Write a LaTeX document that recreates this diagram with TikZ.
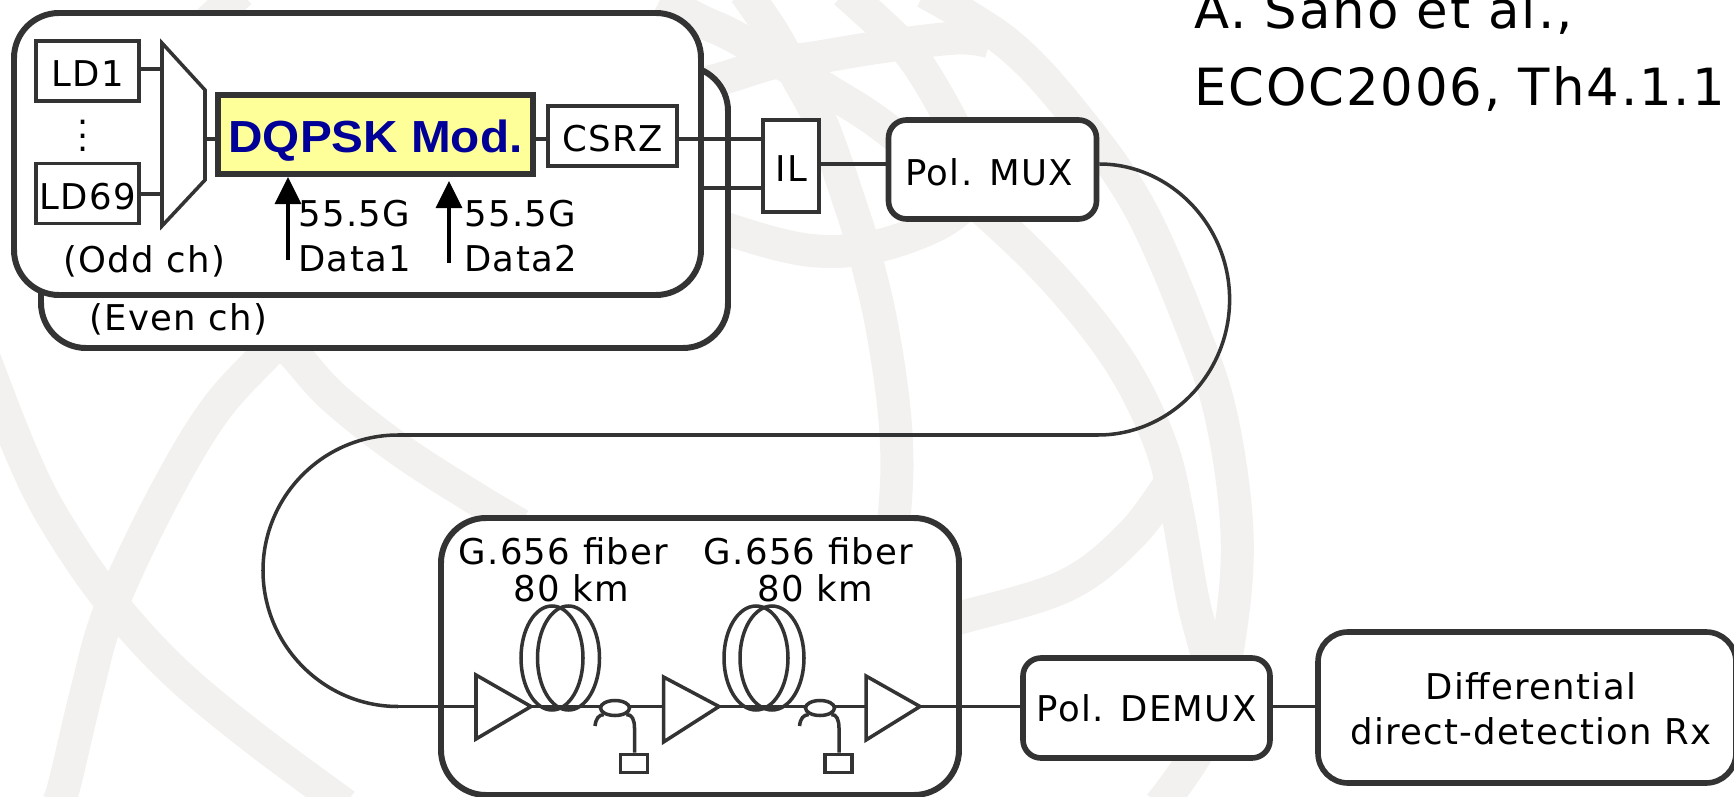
\documentclass[tikz,border=0pt]{standalone}
\usepackage{fontspec}
\usetikzlibrary{arrows.meta,shapes.geometric,calc}
\setmainfont[LetterSpace=3.7]{DejaVu Sans}
\newfontfamily\modfont[FakeStretch=1.06]{Liberation Sans Bold}
\def\pxu{0.02cm}
\newcommand{\smalltxt}{\fontsize{20.2pt}{24pt}\selectfont}
\newcommand{\bigtxt}{\fontsize{29.2pt}{34pt}\selectfont}
\definecolor{ink}{HTML}{333333}
\definecolor{band}{HTML}{F2F1EF}
\definecolor{modfill}{HTML}{FFFF99}
\definecolor{modtext}{HTML}{000099}
\tikzset{
  x=0.02cm,y=-0.02cm,
  every node/.style={inner sep=0pt},
  bg/.style={draw=band,line width=18.8pt,line cap=butt},
  sq/.style={draw=ink,fill=white,line width=2pt,rectangle},
  rnd/.style={draw=ink,fill=white,line width=3.2pt,rounded corners=18*\pxu,rectangle},
  big/.style={draw=ink,fill=white,line width=3.4pt,rounded corners=45*\pxu,rectangle},
  wire/.style={draw=ink,line width=2.2pt},
  fine/.style={draw=ink,line width=2pt},
  txt/.style={font=\smalltxt,text=black},
  low/.style={text height=17.9pt,text depth=0pt},
  txtb/.style={font=\smalltxt,text=black,anchor=base west},
  txtc/.style={font=\smalltxt,text=black,anchor=base},
  reftxt/.style={font=\bigtxt,text=black,anchor=base west},
  sig/.style={draw=black,line width=1.8pt,-{Triangle[length=15.4pt,width=14.8pt]}},
}
\begin{document}
\begin{tikzpicture}
\useasboundingbox (0,0) rectangle (1734,797);
\clip (0,0) rectangle (1734,797);
% background watermark
\draw[bg] plot[smooth,tension=.6] coordinates {(-15,360)(20,450)(53,517)(107,597)(173,670)(253,737)(345,805)};
\draw[bg] plot[smooth,tension=.6] coordinates {(55,805)(63,790)(87,690)(110,610)(160,503)(213,413)(267,353)(310,310)};
\draw[bg] plot[smooth,tension=.6] coordinates {(260,320)(293,353)(333,397)(400,450)(473,497)(520,525)};
\draw[bg] plot[smooth,tension=.6] coordinates {(640,100)(717,80)(773,63)(813,58)(880,47)(957,38)(990,42)};
\draw[bg] plot[smooth,tension=.6] coordinates {(925,-8)(1007,43)(1073,113)(1139,207)(1194,333)(1222,420)(1237,533)(1230,633)(1207,733)(1160,805)};
\draw[bg] plot[smooth,tension=.6] coordinates {(660,0)(703,22)(737,38)(827,90)(892,133)(997,222)(1067,293)(1123,367)(1160,443)(1177,510)(1193,600)(1210,667)(1218,720)};
\draw[bg] plot[smooth,tension=.6] coordinates {(700,215)(730,230)(807,250)(873,247)(940,223)(980,190)};
\draw[bg] plot[smooth,tension=.6] coordinates {(845,-8)(887,30)(915,60)(947,113)(975,170)};
\draw[bg] plot[smooth,tension=.6] coordinates {(745,-8)(773,33)(797,77)(823,127)(853,213)(863,247)(880,317)(893,400)(897,467)(893,530)};
\draw[bg] plot[smooth,tension=.6] coordinates {(930,625)(963,617)(1067,585)(1133,533)(1175,475)};
\draw[bg] plot[smooth,tension=.6] coordinates {(240,-8)(200,30)};
% big boxes
\node[big,minimum width=687*\pxu,minimum height=282*\pxu] (even) at (384.5,207) {};
\node[big,minimum width=687*\pxu,minimum height=282*\pxu] (odd) at (357.5,154) {};
\node[big,minimum width=518*\pxu,minimum height=277*\pxu] (span) at (700,656.5) {};
% component boxes
\node[sq,txt,low,minimum width=103*\pxu,minimum height=60*\pxu] (ld1) at (87.5,71) {LD1};
\node[sq,txt,low,minimum width=103*\pxu,minimum height=60*\pxu] (ld69) at (87.5,193.5) {LD69};
\coordinate (mA) at (162,43); \coordinate (mB) at (205,90); \coordinate (mC) at (205,180); \coordinate (mD) at (162,226);
\node[draw=ink,fill=modfill,line width=3.4pt,rectangle,minimum width=315*\pxu,minimum height=79*\pxu,text=modtext,text height=20pt,text depth=0pt,font=\modfont\fontsize{25.6pt}{30pt}\selectfont] (dq) at (375.5,134.5) {DQPSK Mod.};
\node[sq,txt,low,minimum width=129*\pxu,minimum height=60*\pxu] (csrz) at (612.5,136) {CSRZ};
\node[sq,txt,low,minimum width=56*\pxu,minimum height=92*\pxu] (il) at (791,166) {IL};
\node[rnd,txt,low,minimum width=208*\pxu,minimum height=99*\pxu] (pmux) at (992.5,169.5) {Pol. MUX\kern 4pt};
\node[rnd,txt,minimum width=247*\pxu,minimum height=100*\pxu] (pdemux) at (1146.5,708) {Pol. DEMUX};
\node[rnd,rounded corners=30*\pxu,minimum width=418*\pxu,minimum height=151*\pxu] (rx) at (1527,707.5) {};
% y levels of the wires
\coordinate (yA) at (0,139); \coordinate (yB) at (0,188); \coordinate (yC) at (0,164); \coordinate (yD) at (0,706.5);
\coordinate (yE) at (0,69); \coordinate (yF) at (0,193.7);
% mux
\draw[fine,fill=white,line join=miter] (mA) -- (mB) -- (mC) -- (mD) -- cycle;
% connectors
\draw[wire] (ld1.east |- yE) -- (mA |- yE);
\draw[wire] (ld69.east |- yF) -- (mA |- yF);
\draw[wire] (mB |- yA) -- (dq.west |- yA);
\draw[wire] (dq.east |- yA) -- (csrz.west |- yA);
\draw[wire] (csrz.east |- yA) -- (il.west |- yA);
\draw[wire] (odd.east |- yB) -- (il.west |- yB);
\draw[wire] (il.east |- yC) -- (pmux.west |- yC);
% long loop
\coordinate (loopA) at (1098,435); \coordinate (loopB) at (398,435); \coordinate (loopC) at (398,706.5);
\draw[fine] (pmux.east |- yC) .. controls (1170,164) and (1229.6,225) .. (1229.6,299.5)
   .. controls (1229.6,374) and (1170,435) .. (loopA) -- (loopB)
   .. controls (323.5,435) and (263,496) .. (263,570.5)
   .. controls (263,645) and (323.5,706.5) .. (loopC);
% amplifiers
\coordinate (a1i) at (476,706.5); \coordinate (a1o) at (531,706.5);
\coordinate (a2i) at (663.5,706.5); \coordinate (a2o) at (719,706.5);
\coordinate (a3i) at (866,706.5); \coordinate (a3o) at (920,706.5);
\draw[wire] (loopC) -- (a1i);
\draw[wire] (a1o) -- (a2i);
\draw[wire] (a2o) -- (a3i);
\draw[wire] (a3o) -- (pdemux.west |- yD);
\draw[wire] (pdemux.east |- yD) -- (rx.west |- yD);
\draw[fine,line join=miter] (a1i |- 0,675) -- (a1o) -- (a1i |- 0,739) -- cycle;
\draw[fine,line join=miter] (a2i |- 0,677) -- (a2o) -- (a2i |- 0,742) -- cycle;
\draw[fine,line join=miter] (a3i |- 0,676) -- (a3o) -- (a3i |- 0,740) -- cycle;
% fibre coils
\node[ellipse,fine,minimum width=62*\pxu,minimum height=104*\pxu] (c1a) at (552,658) {};
\node[ellipse,fine,minimum width=62*\pxu,minimum height=104*\pxu] (c1b) at (568.5,658) {};
\node[ellipse,fine,minimum width=64*\pxu,minimum height=104*\pxu] (c2a) at (756,658) {};
\node[ellipse,fine,minimum width=64*\pxu,minimum height=104*\pxu] (c2b) at (772,658) {};
% couplers and taps
\node[ellipse,fine,fill=white,minimum width=29*\pxu,minimum height=15*\pxu] (k1) at (615,708) {};
\node[ellipse,fine,fill=white,minimum width=29*\pxu,minimum height=15*\pxu] (k2) at (820,708) {};
\node[sq,minimum width=27*\pxu,minimum height=18*\pxu] (t1) at (634,763.5) {};
\node[sq,minimum width=27*\pxu,minimum height=18*\pxu] (t2) at (838.5,763.5) {};
\coordinate (f1) at (595,726); \coordinate (f2) at (799.5,726);
\draw[fine] (f1) .. controls (596,718) and (599,715) .. (k1.-150);
\draw[fine] (f2) .. controls (800.5,718) and (803.5,715) .. (k2.-150);
\draw[fine] (k1.-30) .. controls (632,714) and (634.5,720) .. (634.5,728) -- (t1.north -| 634.5,0);
\draw[fine] (k2.-30) .. controls (836.5,714) and (839,720) .. (839,728) -- (t2.north -| 839,0);
% data arrows
\coordinate (d1) at (288,260); \coordinate (d2) at (449,263);
\draw[sig] (d1) -- (d1 |- dq.south);
\draw[sig,shorten >=4*\pxu] (d2) -- (d2 |- dq.south);
% texts
\node[font=\fontsize{19.9pt}{7.6pt}\selectfont,text=black,align=center,anchor=south] (dots) at (83.4,152) {.\\.\\.};
\node[txtb] (oddlabel) at (63,273) {(Odd ch)};
\node[txtb] (evenlabel) at (89,330) {(Even ch)};
\node[txtb] (rate1) at (298,227) {55.5G};
\node[txtb] (data1) at (298,272) {Data1};
\node[txtb] (rate2) at (464,227) {55.5G};
\node[txtb] (data2) at (464,272) {Data2};
\node[txtc] (fib1) at (563.5,564) {G.656 fiber};
\node[txtc] (km1) at (571,601) {80 km};
\node[txtc] (fib2) at (808.5,564) {G.656 fiber};
\node[txtc] (km2) at (815,601) {80 km};
\node[txtc] (rx1) at (1531,699) {Differential};
\node[txtc] (rx2) at (1531,744) {direct-detection Rx};
\node[reftxt] (ref1) at (1194,29) {A. Sano et al.,};
\node[reftxt] (ref2) at (1194,106) {ECOC2006, Th4.1.1};
\end{tikzpicture}
\end{document}
